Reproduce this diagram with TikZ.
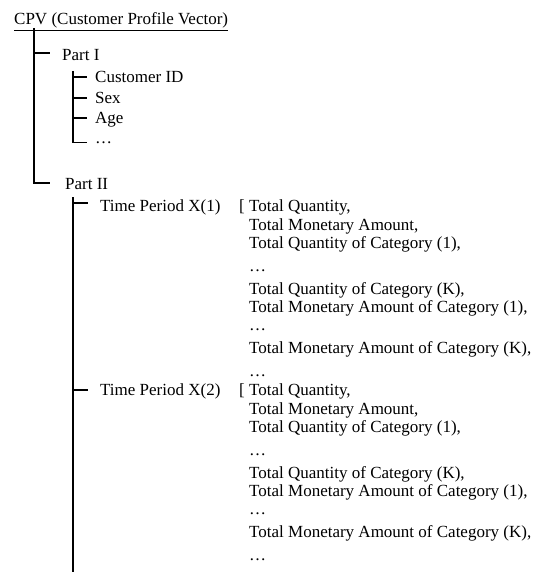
\documentclass[tikz,border=0pt]{standalone}
\usepackage{fontspec}
\setmainfont{Liberation Serif}
\tikzset{
  txt/.style={anchor=base west,inner sep=0pt,font=\fontsize{17}{20}\selectfont},
  branch/.style={line width=1.6pt},
}

\begin{document}
\begin{tikzpicture}[x=1pt,y=-1pt]
 \useasboundingbox (0,0) rectangle (541,572);
 \node[txt] (cpv) at (14,25) {\underline{CPV (Customer Profile Vector)}};
 % Part I
 \node[txt] (partI) at (62,61) {Part I};
 \node[txt] (cid) at (95,83) {Customer ID};
 \node[txt] (sex) at (95,104) {Sex};
 \node[txt] (age) at (95,124) {Age};
 \node[txt] (dotsI) at (95,143) {\dots};
 % Part II
 \node[txt] (partII) at (65,189) {Part II};
 \node[txt] (tpA) at (100,211) {Time Period X(1)};
 \node[txt] (tpB) at (100,395) {Time Period X(2)};
 \foreach \k/\y in {A/211,B/395}{
  \node[txt] (q\k) at (239,\y) {[ Total Quantity,};
  \node[txt] (m\k) at (249,\y+19) {Total Monetary Amount,};
  \node[txt] (qc\k) at (249,\y+37) {Total Quantity of Category (1),};
  \node[txt] (da\k) at (249,\y+60) {\dots};
  \node[txt] (qk\k) at (249,\y+83) {Total Quantity of Category (K),};
  \node[txt] (mc\k) at (249,\y+101) {Total Monetary Amount of Category (1),};
  \node[txt] (db\k) at (249,\y+119) {\dots};
  \node[txt] (mk\k) at (249,\y+142) {Total Monetary Amount of Category (K),};
  \node[txt] (dc\k) at (249,\y+165) {\dots};
 }
 % tree lines
 \coordinate (root) at (34,28);
 \coordinate (pIIe) at (50,183);
 \coordinate (pIt) at (34,53);
 \coordinate (pIe) at (50,53);
 \draw[branch] (root) |- (pIIe);
 \draw[branch] (pIt) -- (pIe);
 \coordinate (subI) at (73,71);
 \coordinate (subIe) at (73,143.5);
 \draw[branch] (subI) -- (subIe);
 \foreach \n/\y in {cid/77,sex/98,age/118,dotsI/142.5}{
  \coordinate (\n-t) at (73,\y);
  \coordinate (\n-e) at (87,\y);
  \draw[branch] (\n-t) -- (\n-e);
 }
 \coordinate (subII) at (73,197);
 \coordinate (subIIe) at (73,572);
 \draw[branch] (subII) -- (subIIe);
 \foreach \n/\y in {tpA/203,tpB/390}{
  \coordinate (\n-t) at (73,\y);
  \coordinate (\n-e) at (88,\y);
  \draw[branch] (\n-t) -- (\n-e);
 }
\end{tikzpicture}
\end{document}
